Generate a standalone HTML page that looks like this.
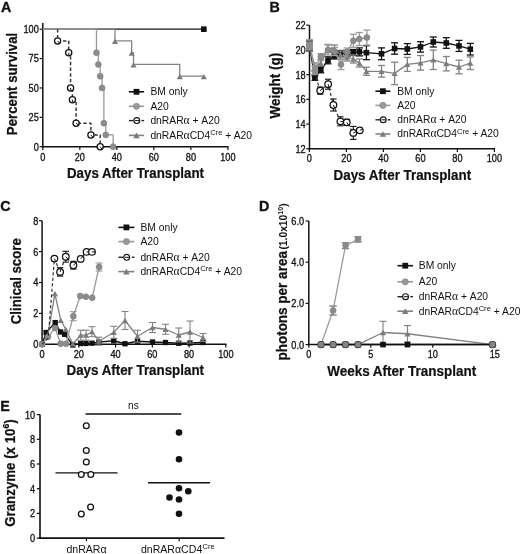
<!DOCTYPE html><html><head><meta charset="utf-8"><style>html,body{margin:0;padding:0;background:#fff;overflow:hidden}svg{display:block;will-change:transform;filter:blur(0.3px);}text{font-family:"Liberation Sans",sans-serif;}</style></head><body>
<svg width="520" height="554" viewBox="0 0 520 554">
<rect width="520" height="554" fill="#fff"/>
<text transform="translate(0.90,11.75) scale(0.94,1)" font-size="15.2" font-weight="bold" fill="#111" stroke="#111" stroke-width="0.35">A</text>
<line x1="42.80" y1="23.10" x2="42.80" y2="147.45" stroke="#111" stroke-width="1.5"/>
<line x1="42.05" y1="146.70" x2="228.50" y2="146.70" stroke="#111" stroke-width="1.5"/>
<line x1="39.60" y1="146.70" x2="42.80" y2="146.70" stroke="#111" stroke-width="1.2"/>
<text transform="translate(38.80,150.60) scale(0.92,1)" font-size="10" text-anchor="end" font-weight="normal" fill="#111" stroke="#111" stroke-width="0.3">0</text>
<line x1="39.60" y1="117.32" x2="42.80" y2="117.32" stroke="#111" stroke-width="1.2"/>
<text transform="translate(38.80,121.22) scale(0.92,1)" font-size="10" text-anchor="end" font-weight="normal" fill="#111" stroke="#111" stroke-width="0.3">25</text>
<line x1="39.60" y1="87.95" x2="42.80" y2="87.95" stroke="#111" stroke-width="1.2"/>
<text transform="translate(38.80,91.85) scale(0.92,1)" font-size="10" text-anchor="end" font-weight="normal" fill="#111" stroke="#111" stroke-width="0.3">50</text>
<line x1="39.60" y1="58.57" x2="42.80" y2="58.57" stroke="#111" stroke-width="1.2"/>
<text transform="translate(38.80,62.47) scale(0.92,1)" font-size="10" text-anchor="end" font-weight="normal" fill="#111" stroke="#111" stroke-width="0.3">75</text>
<line x1="39.60" y1="29.20" x2="42.80" y2="29.20" stroke="#111" stroke-width="1.2"/>
<text transform="translate(38.80,33.10) scale(0.92,1)" font-size="10" text-anchor="end" font-weight="normal" fill="#111" stroke="#111" stroke-width="0.3">100</text>
<line x1="42.80" y1="146.70" x2="42.80" y2="149.90" stroke="#111" stroke-width="1.2"/>
<text transform="translate(42.80,160.50) scale(0.92,1)" font-size="10" text-anchor="middle" font-weight="normal" fill="#111" stroke="#111" stroke-width="0.3">0</text>
<line x1="79.82" y1="146.70" x2="79.82" y2="149.90" stroke="#111" stroke-width="1.2"/>
<text transform="translate(79.82,160.50) scale(0.92,1)" font-size="10" text-anchor="middle" font-weight="normal" fill="#111" stroke="#111" stroke-width="0.3">20</text>
<line x1="116.84" y1="146.70" x2="116.84" y2="149.90" stroke="#111" stroke-width="1.2"/>
<text transform="translate(116.84,160.50) scale(0.92,1)" font-size="10" text-anchor="middle" font-weight="normal" fill="#111" stroke="#111" stroke-width="0.3">40</text>
<line x1="153.86" y1="146.70" x2="153.86" y2="149.90" stroke="#111" stroke-width="1.2"/>
<text transform="translate(153.86,160.50) scale(0.92,1)" font-size="10" text-anchor="middle" font-weight="normal" fill="#111" stroke="#111" stroke-width="0.3">60</text>
<line x1="190.88" y1="146.70" x2="190.88" y2="149.90" stroke="#111" stroke-width="1.2"/>
<text transform="translate(190.88,160.50) scale(0.92,1)" font-size="10" text-anchor="middle" font-weight="normal" fill="#111" stroke="#111" stroke-width="0.3">80</text>
<line x1="227.90" y1="146.70" x2="227.90" y2="149.90" stroke="#111" stroke-width="1.2"/>
<text transform="translate(227.90,160.50) scale(0.92,1)" font-size="10" text-anchor="middle" font-weight="normal" fill="#111" stroke="#111" stroke-width="0.3">100</text>
<text transform="translate(17.30,135.20) rotate(-90)" font-size="14.4" font-weight="bold" text-anchor="start" fill="#111" stroke="#111" stroke-width="0.25" textLength="102.5" lengthAdjust="spacingAndGlyphs">Percent survival</text>
<text x="67.00" y="177.80" font-size="13.8" text-anchor="start" font-weight="bold" fill="#111" textLength="137" lengthAdjust="spacingAndGlyphs" stroke="#111" stroke-width="0.2">Days After Transplant</text>
<polyline points="42.80,29.20 203.84,29.20" fill="none" stroke="#111" stroke-width="1.3" stroke-linejoin="round"/>
<rect x="201.04" y="26.40" width="5.6" height="5.6" fill="#111"/>
<polyline points="42.80,29.20 114.99,29.20 114.99,40.95 131.65,40.95 131.65,52.70 133.50,52.70 133.50,64.45 179.77,64.45 179.77,76.20 203.84,76.20 203.84,76.20" fill="none" stroke="#828282" stroke-width="1.3" stroke-linejoin="round"/>
<polygon points="111.89,43.98 118.09,43.98 114.99,38.71" fill="#7c7c7c"/>
<polygon points="128.55,55.73 134.75,55.73 131.65,50.46" fill="#7c7c7c"/>
<polygon points="130.40,67.48 136.60,67.48 133.50,62.21" fill="#7c7c7c"/>
<polygon points="176.67,79.23 182.87,79.23 179.77,73.96" fill="#7c7c7c"/>
<polygon points="200.74,79.23 206.94,79.23 203.84,73.96" fill="#7c7c7c"/>
<polyline points="42.80,29.20 96.48,29.20 96.48,52.70 98.33,52.70 98.33,64.45 100.18,64.45 100.18,76.20 102.03,76.20 102.03,87.95 103.88,87.95 103.88,123.20 105.73,123.20 105.73,134.95 113.14,134.95 113.14,146.70" fill="none" stroke="#9a9a9a" stroke-width="1.3" stroke-linejoin="round"/>
<circle cx="96.48" cy="52.70" r="3.0" fill="#8c8c8c" stroke="#777" stroke-width="0.5"/>
<circle cx="98.33" cy="64.45" r="3.0" fill="#8c8c8c" stroke="#777" stroke-width="0.5"/>
<circle cx="100.18" cy="76.20" r="3.0" fill="#8c8c8c" stroke="#777" stroke-width="0.5"/>
<circle cx="102.03" cy="87.95" r="3.0" fill="#8c8c8c" stroke="#777" stroke-width="0.5"/>
<circle cx="103.88" cy="123.20" r="3.0" fill="#8c8c8c" stroke="#777" stroke-width="0.5"/>
<circle cx="105.73" cy="134.95" r="3.0" fill="#8c8c8c" stroke="#777" stroke-width="0.5"/>
<circle cx="113.14" cy="146.70" r="3.0" fill="#8c8c8c" stroke="#777" stroke-width="0.5"/>
<polyline points="57.61,29.20 57.61,40.95 68.71,40.95 68.71,52.70 70.56,52.70 70.56,87.95 72.42,87.95 72.42,99.70 76.12,99.70 76.12,123.20 90.93,123.20 90.93,134.95 100.18,134.95 100.18,146.70" fill="none" stroke="#333" stroke-width="1.45" stroke-dasharray="3.4,2.3" stroke-linejoin="round"/>
<circle cx="57.61" cy="40.95" r="3.1" fill="#fff" stroke="#111" stroke-width="1.25"/>
<line x1="57.61" y1="40.95" x2="59.63" y2="43.09" stroke="#111" stroke-width="1.0"/>
<circle cx="68.71" cy="52.70" r="3.1" fill="#fff" stroke="#111" stroke-width="1.25"/>
<line x1="68.71" y1="52.70" x2="68.87" y2="55.64" stroke="#111" stroke-width="1.0"/>
<circle cx="70.56" cy="87.95" r="3.1" fill="#fff" stroke="#111" stroke-width="1.25"/>
<line x1="70.56" y1="87.95" x2="71.02" y2="90.86" stroke="#111" stroke-width="1.0"/>
<circle cx="72.42" cy="99.70" r="3.1" fill="#fff" stroke="#111" stroke-width="1.25"/>
<line x1="72.42" y1="99.70" x2="72.87" y2="102.61" stroke="#111" stroke-width="1.0"/>
<circle cx="76.12" cy="123.20" r="3.1" fill="#fff" stroke="#111" stroke-width="1.25"/>
<line x1="76.12" y1="123.20" x2="78.42" y2="125.03" stroke="#111" stroke-width="1.0"/>
<circle cx="90.93" cy="134.95" r="3.1" fill="#fff" stroke="#111" stroke-width="1.25"/>
<line x1="90.93" y1="134.95" x2="92.75" y2="137.26" stroke="#111" stroke-width="1.0"/>
<circle cx="100.18" cy="146.70" r="3.1" fill="#fff" stroke="#111" stroke-width="1.25"/>
<line x1="100.18" y1="146.70" x2="102.00" y2="149.01" stroke="#111" stroke-width="1.0"/>
<line x1="128.90" y1="91.80" x2="144.10" y2="91.80" stroke="#111" stroke-width="1.6"/>
<rect x="133.60" y="88.90" width="5.8" height="5.8" fill="#111"/>
<line x1="128.90" y1="106.30" x2="144.10" y2="106.30" stroke="#9a9a9a" stroke-width="1.6"/>
<circle cx="136.50" cy="106.30" r="3.1" fill="#9a9a9a" stroke="#777" stroke-width="0.5"/>
<line x1="128.90" y1="120.60" x2="133.50" y2="120.60" stroke="#222" stroke-width="1.4"/>
<line x1="141.50" y1="120.60" x2="144.10" y2="120.60" stroke="#222" stroke-width="1.4"/>
<circle cx="136.80" cy="120.60" r="2.95" fill="none" stroke="#111" stroke-width="1.1"/>
<line x1="135.00" y1="120.60" x2="139.50" y2="120.60" stroke="#111" stroke-width="1.0"/>
<line x1="128.90" y1="135.40" x2="144.10" y2="135.40" stroke="#828282" stroke-width="1.6"/>
<polygon points="133.20,138.21 139.80,138.21 136.50,132.59" fill="#7c7c7c"/>
<text x="150.40" y="95.25" font-size="10.3" text-anchor="start" font-weight="normal" fill="#111" >BM only</text>
<text x="150.40" y="109.75" font-size="10.3" text-anchor="start" font-weight="normal" fill="#111" >A20</text>
<text x="150.40" y="124.05" font-size="10.3" text-anchor="start" font-weight="normal" fill="#111" >dnRAR<tspan font-family="Liberation Serif" font-size="11.5">α</tspan> + A20</text>
<text x="150.40" y="138.85" font-size="10.3" text-anchor="start" font-weight="normal" fill="#111" >dnRAR<tspan font-family="Liberation Serif" font-size="11.5">α</tspan>CD4<tspan font-size="7.6" dy="-3.9">Cre</tspan><tspan dy="3.9"> + A20</tspan></text>
<text transform="translate(269.50,11.80) scale(0.94,1)" font-size="15.2" font-weight="bold" fill="#111" stroke="#111" stroke-width="0.35">B</text>
<line x1="309.50" y1="25.20" x2="309.50" y2="149.50" stroke="#111" stroke-width="1.5"/>
<line x1="308.75" y1="148.75" x2="495.00" y2="148.75" stroke="#111" stroke-width="1.5"/>
<line x1="306.30" y1="148.75" x2="309.50" y2="148.75" stroke="#111" stroke-width="1.2"/>
<text transform="translate(305.60,152.65) scale(0.92,1)" font-size="10" text-anchor="end" font-weight="normal" fill="#111" stroke="#111" stroke-width="0.3">12</text>
<line x1="306.30" y1="124.04" x2="309.50" y2="124.04" stroke="#111" stroke-width="1.2"/>
<text transform="translate(305.60,127.94) scale(0.92,1)" font-size="10" text-anchor="end" font-weight="normal" fill="#111" stroke="#111" stroke-width="0.3">14</text>
<line x1="306.30" y1="99.33" x2="309.50" y2="99.33" stroke="#111" stroke-width="1.2"/>
<text transform="translate(305.60,103.23) scale(0.92,1)" font-size="10" text-anchor="end" font-weight="normal" fill="#111" stroke="#111" stroke-width="0.3">16</text>
<line x1="306.30" y1="74.62" x2="309.50" y2="74.62" stroke="#111" stroke-width="1.2"/>
<text transform="translate(305.60,78.52) scale(0.92,1)" font-size="10" text-anchor="end" font-weight="normal" fill="#111" stroke="#111" stroke-width="0.3">18</text>
<line x1="306.30" y1="49.91" x2="309.50" y2="49.91" stroke="#111" stroke-width="1.2"/>
<text transform="translate(305.60,53.81) scale(0.92,1)" font-size="10" text-anchor="end" font-weight="normal" fill="#111" stroke="#111" stroke-width="0.3">20</text>
<line x1="306.30" y1="25.20" x2="309.50" y2="25.20" stroke="#111" stroke-width="1.2"/>
<text transform="translate(305.60,29.10) scale(0.92,1)" font-size="10" text-anchor="end" font-weight="normal" fill="#111" stroke="#111" stroke-width="0.3">22</text>
<line x1="309.40" y1="148.75" x2="309.40" y2="151.95" stroke="#111" stroke-width="1.2"/>
<text transform="translate(309.40,162.00) scale(0.92,1)" font-size="10" text-anchor="middle" font-weight="normal" fill="#111" stroke="#111" stroke-width="0.3">0</text>
<line x1="346.40" y1="148.75" x2="346.40" y2="151.95" stroke="#111" stroke-width="1.2"/>
<text transform="translate(346.40,162.00) scale(0.92,1)" font-size="10" text-anchor="middle" font-weight="normal" fill="#111" stroke="#111" stroke-width="0.3">20</text>
<line x1="383.40" y1="148.75" x2="383.40" y2="151.95" stroke="#111" stroke-width="1.2"/>
<text transform="translate(383.40,162.00) scale(0.92,1)" font-size="10" text-anchor="middle" font-weight="normal" fill="#111" stroke="#111" stroke-width="0.3">40</text>
<line x1="420.40" y1="148.75" x2="420.40" y2="151.95" stroke="#111" stroke-width="1.2"/>
<text transform="translate(420.40,162.00) scale(0.92,1)" font-size="10" text-anchor="middle" font-weight="normal" fill="#111" stroke="#111" stroke-width="0.3">60</text>
<line x1="457.40" y1="148.75" x2="457.40" y2="151.95" stroke="#111" stroke-width="1.2"/>
<text transform="translate(457.40,162.00) scale(0.92,1)" font-size="10" text-anchor="middle" font-weight="normal" fill="#111" stroke="#111" stroke-width="0.3">80</text>
<line x1="494.40" y1="148.75" x2="494.40" y2="151.95" stroke="#111" stroke-width="1.2"/>
<text transform="translate(494.40,162.00) scale(0.92,1)" font-size="10" text-anchor="middle" font-weight="normal" fill="#111" stroke="#111" stroke-width="0.3">100</text>
<text transform="translate(280.20,118.60) rotate(-90)" font-size="14.2" font-weight="bold" text-anchor="start" fill="#111" stroke="#111" stroke-width="0.25" textLength="65.8" lengthAdjust="spacingAndGlyphs">Weight (g)</text>
<text x="333.60" y="179.60" font-size="13.8" text-anchor="start" font-weight="bold" fill="#111" textLength="137.5" lengthAdjust="spacingAndGlyphs" stroke="#111" stroke-width="0.2">Days After Transplant</text>
<line x1="309.50" y1="41.00" x2="309.50" y2="51.00" stroke="#111" stroke-width="1.3"/>
<line x1="306.00" y1="41.00" x2="313.00" y2="41.00" stroke="#111" stroke-width="1.3"/>
<line x1="306.00" y1="51.00" x2="313.00" y2="51.00" stroke="#111" stroke-width="1.3"/>
<line x1="314.90" y1="75.30" x2="314.90" y2="80.30" stroke="#111" stroke-width="1.3"/>
<line x1="311.40" y1="75.30" x2="318.40" y2="75.30" stroke="#111" stroke-width="1.3"/>
<line x1="311.40" y1="80.30" x2="318.40" y2="80.30" stroke="#111" stroke-width="1.3"/>
<line x1="320.80" y1="66.80" x2="320.80" y2="72.80" stroke="#111" stroke-width="1.3"/>
<line x1="317.30" y1="66.80" x2="324.30" y2="66.80" stroke="#111" stroke-width="1.3"/>
<line x1="317.30" y1="72.80" x2="324.30" y2="72.80" stroke="#111" stroke-width="1.3"/>
<line x1="328.00" y1="56.80" x2="328.00" y2="63.80" stroke="#111" stroke-width="1.3"/>
<line x1="324.50" y1="56.80" x2="331.50" y2="56.80" stroke="#111" stroke-width="1.3"/>
<line x1="324.50" y1="63.80" x2="331.50" y2="63.80" stroke="#111" stroke-width="1.3"/>
<line x1="334.50" y1="53.00" x2="334.50" y2="59.00" stroke="#111" stroke-width="1.3"/>
<line x1="331.00" y1="53.00" x2="338.00" y2="53.00" stroke="#111" stroke-width="1.3"/>
<line x1="331.00" y1="59.00" x2="338.00" y2="59.00" stroke="#111" stroke-width="1.3"/>
<line x1="340.50" y1="50.50" x2="340.50" y2="56.50" stroke="#111" stroke-width="1.3"/>
<line x1="337.00" y1="50.50" x2="344.00" y2="50.50" stroke="#111" stroke-width="1.3"/>
<line x1="337.00" y1="56.50" x2="344.00" y2="56.50" stroke="#111" stroke-width="1.3"/>
<line x1="347.00" y1="50.50" x2="347.00" y2="56.50" stroke="#111" stroke-width="1.3"/>
<line x1="343.50" y1="50.50" x2="350.50" y2="50.50" stroke="#111" stroke-width="1.3"/>
<line x1="343.50" y1="56.50" x2="350.50" y2="56.50" stroke="#111" stroke-width="1.3"/>
<line x1="353.30" y1="49.50" x2="353.30" y2="55.50" stroke="#111" stroke-width="1.3"/>
<line x1="349.80" y1="49.50" x2="356.80" y2="49.50" stroke="#111" stroke-width="1.3"/>
<line x1="349.80" y1="55.50" x2="356.80" y2="55.50" stroke="#111" stroke-width="1.3"/>
<line x1="359.40" y1="47.90" x2="359.40" y2="55.90" stroke="#111" stroke-width="1.3"/>
<line x1="355.90" y1="47.90" x2="362.90" y2="47.90" stroke="#111" stroke-width="1.3"/>
<line x1="355.90" y1="55.90" x2="362.90" y2="55.90" stroke="#111" stroke-width="1.3"/>
<line x1="366.40" y1="45.70" x2="366.40" y2="59.70" stroke="#111" stroke-width="1.3"/>
<line x1="362.90" y1="45.70" x2="369.90" y2="45.70" stroke="#111" stroke-width="1.3"/>
<line x1="362.90" y1="59.70" x2="369.90" y2="59.70" stroke="#111" stroke-width="1.3"/>
<line x1="381.50" y1="47.90" x2="381.50" y2="59.70" stroke="#111" stroke-width="1.3"/>
<line x1="378.00" y1="47.90" x2="385.00" y2="47.90" stroke="#111" stroke-width="1.3"/>
<line x1="378.00" y1="59.70" x2="385.00" y2="59.70" stroke="#111" stroke-width="1.3"/>
<line x1="394.60" y1="42.80" x2="394.60" y2="54.20" stroke="#111" stroke-width="1.3"/>
<line x1="391.10" y1="42.80" x2="398.10" y2="42.80" stroke="#111" stroke-width="1.3"/>
<line x1="391.10" y1="54.20" x2="398.10" y2="54.20" stroke="#111" stroke-width="1.3"/>
<line x1="407.30" y1="43.60" x2="407.30" y2="54.40" stroke="#111" stroke-width="1.3"/>
<line x1="403.80" y1="43.60" x2="410.80" y2="43.60" stroke="#111" stroke-width="1.3"/>
<line x1="403.80" y1="54.40" x2="410.80" y2="54.40" stroke="#111" stroke-width="1.3"/>
<line x1="420.50" y1="41.70" x2="420.50" y2="52.10" stroke="#111" stroke-width="1.3"/>
<line x1="417.00" y1="41.70" x2="424.00" y2="41.70" stroke="#111" stroke-width="1.3"/>
<line x1="417.00" y1="52.10" x2="424.00" y2="52.10" stroke="#111" stroke-width="1.3"/>
<line x1="433.30" y1="37.00" x2="433.30" y2="47.00" stroke="#111" stroke-width="1.3"/>
<line x1="429.80" y1="37.00" x2="436.80" y2="37.00" stroke="#111" stroke-width="1.3"/>
<line x1="429.80" y1="47.00" x2="436.80" y2="47.00" stroke="#111" stroke-width="1.3"/>
<line x1="446.30" y1="37.70" x2="446.30" y2="48.30" stroke="#111" stroke-width="1.3"/>
<line x1="442.80" y1="37.70" x2="449.80" y2="37.70" stroke="#111" stroke-width="1.3"/>
<line x1="442.80" y1="48.30" x2="449.80" y2="48.30" stroke="#111" stroke-width="1.3"/>
<line x1="459.00" y1="40.40" x2="459.00" y2="51.40" stroke="#111" stroke-width="1.3"/>
<line x1="455.50" y1="40.40" x2="462.50" y2="40.40" stroke="#111" stroke-width="1.3"/>
<line x1="455.50" y1="51.40" x2="462.50" y2="51.40" stroke="#111" stroke-width="1.3"/>
<line x1="470.30" y1="43.40" x2="470.30" y2="55.00" stroke="#111" stroke-width="1.3"/>
<line x1="466.80" y1="43.40" x2="473.80" y2="43.40" stroke="#111" stroke-width="1.3"/>
<line x1="466.80" y1="55.00" x2="473.80" y2="55.00" stroke="#111" stroke-width="1.3"/>
<polyline points="309.50,46.00 314.90,77.80 320.80,69.80 328.00,60.30 334.50,56.00 340.50,53.50 347.00,53.50 353.30,52.50 359.40,51.90 366.40,52.70 381.50,53.80 394.60,48.50 407.30,49.00 420.50,46.90 433.30,42.00 446.30,43.00 459.00,45.90 470.30,49.20" fill="none" stroke="#111" stroke-width="1.3" stroke-linejoin="round"/>
<rect x="306.70" y="43.20" width="5.6" height="5.6" fill="#111"/>
<rect x="312.10" y="75.00" width="5.6" height="5.6" fill="#111"/>
<rect x="318.00" y="67.00" width="5.6" height="5.6" fill="#111"/>
<rect x="325.20" y="57.50" width="5.6" height="5.6" fill="#111"/>
<rect x="331.70" y="53.20" width="5.6" height="5.6" fill="#111"/>
<rect x="337.70" y="50.70" width="5.6" height="5.6" fill="#111"/>
<rect x="344.20" y="50.70" width="5.6" height="5.6" fill="#111"/>
<rect x="350.50" y="49.70" width="5.6" height="5.6" fill="#111"/>
<rect x="356.60" y="49.10" width="5.6" height="5.6" fill="#111"/>
<rect x="363.60" y="49.90" width="5.6" height="5.6" fill="#111"/>
<rect x="378.70" y="51.00" width="5.6" height="5.6" fill="#111"/>
<rect x="391.80" y="45.70" width="5.6" height="5.6" fill="#111"/>
<rect x="404.50" y="46.20" width="5.6" height="5.6" fill="#111"/>
<rect x="417.70" y="44.10" width="5.6" height="5.6" fill="#111"/>
<rect x="430.50" y="39.20" width="5.6" height="5.6" fill="#111"/>
<rect x="443.50" y="40.20" width="5.6" height="5.6" fill="#111"/>
<rect x="456.20" y="43.10" width="5.6" height="5.6" fill="#111"/>
<rect x="467.50" y="46.40" width="5.6" height="5.6" fill="#111"/>
<line x1="309.50" y1="41.00" x2="309.50" y2="49.00" stroke="#111" stroke-width="1.1"/>
<line x1="306.30" y1="41.00" x2="312.70" y2="41.00" stroke="#111" stroke-width="1.1"/>
<line x1="306.30" y1="49.00" x2="312.70" y2="49.00" stroke="#111" stroke-width="1.1"/>
<line x1="314.90" y1="71.00" x2="314.90" y2="77.00" stroke="#111" stroke-width="1.1"/>
<line x1="311.70" y1="71.00" x2="318.10" y2="71.00" stroke="#111" stroke-width="1.1"/>
<line x1="311.70" y1="77.00" x2="318.10" y2="77.00" stroke="#111" stroke-width="1.1"/>
<line x1="320.20" y1="87.00" x2="320.20" y2="94.20" stroke="#111" stroke-width="1.1"/>
<line x1="317.00" y1="87.00" x2="323.40" y2="87.00" stroke="#111" stroke-width="1.1"/>
<line x1="317.00" y1="94.20" x2="323.40" y2="94.20" stroke="#111" stroke-width="1.1"/>
<line x1="328.10" y1="79.20" x2="328.10" y2="89.20" stroke="#111" stroke-width="1.1"/>
<line x1="324.90" y1="79.20" x2="331.30" y2="79.20" stroke="#111" stroke-width="1.1"/>
<line x1="324.90" y1="89.20" x2="331.30" y2="89.20" stroke="#111" stroke-width="1.1"/>
<line x1="333.40" y1="99.00" x2="333.40" y2="111.00" stroke="#111" stroke-width="1.1"/>
<line x1="330.20" y1="99.00" x2="336.60" y2="99.00" stroke="#111" stroke-width="1.1"/>
<line x1="330.20" y1="111.00" x2="336.60" y2="111.00" stroke="#111" stroke-width="1.1"/>
<line x1="340.40" y1="116.80" x2="340.40" y2="125.80" stroke="#111" stroke-width="1.1"/>
<line x1="337.20" y1="116.80" x2="343.60" y2="116.80" stroke="#111" stroke-width="1.1"/>
<line x1="337.20" y1="125.80" x2="343.60" y2="125.80" stroke="#111" stroke-width="1.1"/>
<line x1="346.80" y1="119.30" x2="346.80" y2="125.30" stroke="#111" stroke-width="1.1"/>
<line x1="343.60" y1="119.30" x2="350.00" y2="119.30" stroke="#111" stroke-width="1.1"/>
<line x1="343.60" y1="125.30" x2="350.00" y2="125.30" stroke="#111" stroke-width="1.1"/>
<line x1="353.30" y1="126.40" x2="353.30" y2="139.40" stroke="#111" stroke-width="1.1"/>
<line x1="350.10" y1="126.40" x2="356.50" y2="126.40" stroke="#111" stroke-width="1.1"/>
<line x1="350.10" y1="139.40" x2="356.50" y2="139.40" stroke="#111" stroke-width="1.1"/>
<line x1="359.80" y1="128.30" x2="359.80" y2="132.30" stroke="#111" stroke-width="1.1"/>
<line x1="356.60" y1="128.30" x2="363.00" y2="128.30" stroke="#111" stroke-width="1.1"/>
<line x1="356.60" y1="132.30" x2="363.00" y2="132.30" stroke="#111" stroke-width="1.1"/>
<polyline points="309.50,45.00 314.90,74.00 320.20,90.60 328.10,84.20 333.40,105.00 340.40,121.30 346.80,122.30 353.30,132.90 359.80,130.30" fill="none" stroke="#333" stroke-width="1.2" stroke-dasharray="3.2,2.3" stroke-linejoin="round"/>
<circle cx="320.20" cy="90.60" r="3.3" fill="#fff" stroke="#111" stroke-width="1.25"/>
<line x1="320.20" y1="90.60" x2="322.64" y2="88.63" stroke="#111" stroke-width="1.0"/>
<circle cx="328.10" cy="84.20" r="3.3" fill="#fff" stroke="#111" stroke-width="1.25"/>
<line x1="328.10" y1="84.20" x2="328.87" y2="87.24" stroke="#111" stroke-width="1.0"/>
<circle cx="333.40" cy="105.00" r="3.3" fill="#fff" stroke="#111" stroke-width="1.25"/>
<line x1="333.40" y1="105.00" x2="334.64" y2="107.88" stroke="#111" stroke-width="1.0"/>
<circle cx="340.40" cy="121.30" r="3.3" fill="#fff" stroke="#111" stroke-width="1.25"/>
<line x1="340.40" y1="121.30" x2="343.50" y2="121.78" stroke="#111" stroke-width="1.0"/>
<circle cx="346.80" cy="122.30" r="3.3" fill="#fff" stroke="#111" stroke-width="1.25"/>
<line x1="346.80" y1="122.30" x2="348.44" y2="124.97" stroke="#111" stroke-width="1.0"/>
<circle cx="353.30" cy="132.90" r="3.3" fill="#fff" stroke="#111" stroke-width="1.25"/>
<line x1="353.30" y1="132.90" x2="356.21" y2="131.74" stroke="#111" stroke-width="1.0"/>
<circle cx="359.80" cy="130.30" r="3.3" fill="#fff" stroke="#111" stroke-width="1.25"/>
<line x1="359.80" y1="130.30" x2="362.71" y2="129.14" stroke="#111" stroke-width="1.0"/>
<line x1="309.50" y1="40.00" x2="309.50" y2="50.00" stroke="#828282" stroke-width="1.3"/>
<line x1="306.00" y1="40.00" x2="313.00" y2="40.00" stroke="#828282" stroke-width="1.3"/>
<line x1="306.00" y1="50.00" x2="313.00" y2="50.00" stroke="#828282" stroke-width="1.3"/>
<line x1="314.90" y1="63.00" x2="314.90" y2="71.00" stroke="#828282" stroke-width="1.3"/>
<line x1="311.40" y1="63.00" x2="318.40" y2="63.00" stroke="#828282" stroke-width="1.3"/>
<line x1="311.40" y1="71.00" x2="318.40" y2="71.00" stroke="#828282" stroke-width="1.3"/>
<line x1="320.80" y1="60.00" x2="320.80" y2="66.00" stroke="#828282" stroke-width="1.3"/>
<line x1="317.30" y1="60.00" x2="324.30" y2="60.00" stroke="#828282" stroke-width="1.3"/>
<line x1="317.30" y1="66.00" x2="324.30" y2="66.00" stroke="#828282" stroke-width="1.3"/>
<line x1="328.00" y1="44.50" x2="328.00" y2="52.50" stroke="#828282" stroke-width="1.3"/>
<line x1="324.50" y1="44.50" x2="331.50" y2="44.50" stroke="#828282" stroke-width="1.3"/>
<line x1="324.50" y1="52.50" x2="331.50" y2="52.50" stroke="#828282" stroke-width="1.3"/>
<line x1="334.50" y1="45.00" x2="334.50" y2="53.00" stroke="#828282" stroke-width="1.3"/>
<line x1="331.00" y1="45.00" x2="338.00" y2="45.00" stroke="#828282" stroke-width="1.3"/>
<line x1="331.00" y1="53.00" x2="338.00" y2="53.00" stroke="#828282" stroke-width="1.3"/>
<line x1="340.50" y1="51.00" x2="340.50" y2="59.00" stroke="#828282" stroke-width="1.3"/>
<line x1="337.00" y1="51.00" x2="344.00" y2="51.00" stroke="#828282" stroke-width="1.3"/>
<line x1="337.00" y1="59.00" x2="344.00" y2="59.00" stroke="#828282" stroke-width="1.3"/>
<line x1="347.00" y1="53.00" x2="347.00" y2="61.00" stroke="#828282" stroke-width="1.3"/>
<line x1="343.50" y1="53.00" x2="350.50" y2="53.00" stroke="#828282" stroke-width="1.3"/>
<line x1="343.50" y1="61.00" x2="350.50" y2="61.00" stroke="#828282" stroke-width="1.3"/>
<line x1="353.30" y1="55.00" x2="353.30" y2="63.00" stroke="#828282" stroke-width="1.3"/>
<line x1="349.80" y1="55.00" x2="356.80" y2="55.00" stroke="#828282" stroke-width="1.3"/>
<line x1="349.80" y1="63.00" x2="356.80" y2="63.00" stroke="#828282" stroke-width="1.3"/>
<line x1="359.40" y1="59.00" x2="359.40" y2="67.00" stroke="#828282" stroke-width="1.3"/>
<line x1="355.90" y1="59.00" x2="362.90" y2="59.00" stroke="#828282" stroke-width="1.3"/>
<line x1="355.90" y1="67.00" x2="362.90" y2="67.00" stroke="#828282" stroke-width="1.3"/>
<line x1="366.40" y1="67.30" x2="366.40" y2="75.30" stroke="#828282" stroke-width="1.3"/>
<line x1="362.90" y1="67.30" x2="369.90" y2="67.30" stroke="#828282" stroke-width="1.3"/>
<line x1="362.90" y1="75.30" x2="369.90" y2="75.30" stroke="#828282" stroke-width="1.3"/>
<line x1="381.50" y1="65.50" x2="381.50" y2="77.10" stroke="#828282" stroke-width="1.3"/>
<line x1="378.00" y1="65.50" x2="385.00" y2="65.50" stroke="#828282" stroke-width="1.3"/>
<line x1="378.00" y1="77.10" x2="385.00" y2="77.10" stroke="#828282" stroke-width="1.3"/>
<line x1="394.60" y1="62.20" x2="394.60" y2="84.60" stroke="#828282" stroke-width="1.3"/>
<line x1="391.10" y1="62.20" x2="398.10" y2="62.20" stroke="#828282" stroke-width="1.3"/>
<line x1="391.10" y1="84.60" x2="398.10" y2="84.60" stroke="#828282" stroke-width="1.3"/>
<line x1="407.30" y1="57.40" x2="407.30" y2="71.40" stroke="#828282" stroke-width="1.3"/>
<line x1="403.80" y1="57.40" x2="410.80" y2="57.40" stroke="#828282" stroke-width="1.3"/>
<line x1="403.80" y1="71.40" x2="410.80" y2="71.40" stroke="#828282" stroke-width="1.3"/>
<line x1="420.50" y1="55.50" x2="420.50" y2="70.10" stroke="#828282" stroke-width="1.3"/>
<line x1="417.00" y1="55.50" x2="424.00" y2="55.50" stroke="#828282" stroke-width="1.3"/>
<line x1="417.00" y1="70.10" x2="424.00" y2="70.10" stroke="#828282" stroke-width="1.3"/>
<line x1="433.30" y1="50.10" x2="433.30" y2="69.50" stroke="#828282" stroke-width="1.3"/>
<line x1="429.80" y1="50.10" x2="436.80" y2="50.10" stroke="#828282" stroke-width="1.3"/>
<line x1="429.80" y1="69.50" x2="436.80" y2="69.50" stroke="#828282" stroke-width="1.3"/>
<line x1="446.30" y1="56.50" x2="446.30" y2="70.90" stroke="#828282" stroke-width="1.3"/>
<line x1="442.80" y1="56.50" x2="449.80" y2="56.50" stroke="#828282" stroke-width="1.3"/>
<line x1="442.80" y1="70.90" x2="449.80" y2="70.90" stroke="#828282" stroke-width="1.3"/>
<line x1="459.00" y1="60.20" x2="459.00" y2="73.80" stroke="#828282" stroke-width="1.3"/>
<line x1="455.50" y1="60.20" x2="462.50" y2="60.20" stroke="#828282" stroke-width="1.3"/>
<line x1="455.50" y1="73.80" x2="462.50" y2="73.80" stroke="#828282" stroke-width="1.3"/>
<line x1="470.30" y1="56.90" x2="470.30" y2="69.50" stroke="#828282" stroke-width="1.3"/>
<line x1="466.80" y1="56.90" x2="473.80" y2="56.90" stroke="#828282" stroke-width="1.3"/>
<line x1="466.80" y1="69.50" x2="473.80" y2="69.50" stroke="#828282" stroke-width="1.3"/>
<polyline points="309.50,45.00 314.90,67.00 320.80,63.00 328.00,48.50 334.50,49.00 340.50,55.00 347.00,57.00 353.30,59.00 359.40,63.00 366.40,71.30 381.50,71.30 394.60,73.40 407.30,64.40 420.50,62.80 433.30,59.80 446.30,63.70 459.00,67.00 470.30,63.20" fill="none" stroke="#828282" stroke-width="1.3" stroke-linejoin="round"/>
<polygon points="306.40,47.63 312.60,47.63 309.50,42.37" fill="#7c7c7c"/>
<polygon points="311.80,69.64 318.00,69.64 314.90,64.36" fill="#7c7c7c"/>
<polygon points="317.70,65.64 323.90,65.64 320.80,60.37" fill="#7c7c7c"/>
<polygon points="324.90,51.13 331.10,51.13 328.00,45.87" fill="#7c7c7c"/>
<polygon points="331.40,51.63 337.60,51.63 334.50,46.37" fill="#7c7c7c"/>
<polygon points="337.40,57.63 343.60,57.63 340.50,52.37" fill="#7c7c7c"/>
<polygon points="343.90,59.63 350.10,59.63 347.00,54.37" fill="#7c7c7c"/>
<polygon points="350.20,61.63 356.40,61.63 353.30,56.37" fill="#7c7c7c"/>
<polygon points="356.30,65.64 362.50,65.64 359.40,60.37" fill="#7c7c7c"/>
<polygon points="363.30,73.94 369.50,73.94 366.40,68.66" fill="#7c7c7c"/>
<polygon points="378.40,73.94 384.60,73.94 381.50,68.66" fill="#7c7c7c"/>
<polygon points="391.50,76.04 397.70,76.04 394.60,70.77" fill="#7c7c7c"/>
<polygon points="404.20,67.04 410.40,67.04 407.30,61.77" fill="#7c7c7c"/>
<polygon points="417.40,65.44 423.60,65.44 420.50,60.16" fill="#7c7c7c"/>
<polygon points="430.20,62.43 436.40,62.43 433.30,57.16" fill="#7c7c7c"/>
<polygon points="443.20,66.34 449.40,66.34 446.30,61.07" fill="#7c7c7c"/>
<polygon points="455.90,69.64 462.10,69.64 459.00,64.36" fill="#7c7c7c"/>
<polygon points="467.20,65.84 473.40,65.84 470.30,60.57" fill="#7c7c7c"/>
<line x1="309.50" y1="40.00" x2="309.50" y2="50.00" stroke="#9a9a9a" stroke-width="1.3"/>
<line x1="306.00" y1="40.00" x2="313.00" y2="40.00" stroke="#9a9a9a" stroke-width="1.3"/>
<line x1="306.00" y1="50.00" x2="313.00" y2="50.00" stroke="#9a9a9a" stroke-width="1.3"/>
<line x1="314.90" y1="66.00" x2="314.90" y2="74.00" stroke="#9a9a9a" stroke-width="1.3"/>
<line x1="311.40" y1="66.00" x2="318.40" y2="66.00" stroke="#9a9a9a" stroke-width="1.3"/>
<line x1="311.40" y1="74.00" x2="318.40" y2="74.00" stroke="#9a9a9a" stroke-width="1.3"/>
<line x1="320.80" y1="53.70" x2="320.80" y2="59.70" stroke="#9a9a9a" stroke-width="1.3"/>
<line x1="317.30" y1="53.70" x2="324.30" y2="53.70" stroke="#9a9a9a" stroke-width="1.3"/>
<line x1="317.30" y1="59.70" x2="324.30" y2="59.70" stroke="#9a9a9a" stroke-width="1.3"/>
<line x1="328.00" y1="44.90" x2="328.00" y2="54.90" stroke="#9a9a9a" stroke-width="1.3"/>
<line x1="324.50" y1="44.90" x2="331.50" y2="44.90" stroke="#9a9a9a" stroke-width="1.3"/>
<line x1="324.50" y1="54.90" x2="331.50" y2="54.90" stroke="#9a9a9a" stroke-width="1.3"/>
<line x1="334.50" y1="47.50" x2="334.50" y2="55.50" stroke="#9a9a9a" stroke-width="1.3"/>
<line x1="331.00" y1="47.50" x2="338.00" y2="47.50" stroke="#9a9a9a" stroke-width="1.3"/>
<line x1="331.00" y1="55.50" x2="338.00" y2="55.50" stroke="#9a9a9a" stroke-width="1.3"/>
<line x1="341.00" y1="59.50" x2="341.00" y2="69.50" stroke="#9a9a9a" stroke-width="1.3"/>
<line x1="337.50" y1="59.50" x2="344.50" y2="59.50" stroke="#9a9a9a" stroke-width="1.3"/>
<line x1="337.50" y1="69.50" x2="344.50" y2="69.50" stroke="#9a9a9a" stroke-width="1.3"/>
<line x1="347.00" y1="48.00" x2="347.00" y2="56.00" stroke="#9a9a9a" stroke-width="1.3"/>
<line x1="343.50" y1="48.00" x2="350.50" y2="48.00" stroke="#9a9a9a" stroke-width="1.3"/>
<line x1="343.50" y1="56.00" x2="350.50" y2="56.00" stroke="#9a9a9a" stroke-width="1.3"/>
<line x1="353.40" y1="34.30" x2="353.40" y2="47.30" stroke="#9a9a9a" stroke-width="1.3"/>
<line x1="349.90" y1="34.30" x2="356.90" y2="34.30" stroke="#9a9a9a" stroke-width="1.3"/>
<line x1="349.90" y1="47.30" x2="356.90" y2="47.30" stroke="#9a9a9a" stroke-width="1.3"/>
<line x1="359.30" y1="32.50" x2="359.30" y2="45.50" stroke="#9a9a9a" stroke-width="1.3"/>
<line x1="355.80" y1="32.50" x2="362.80" y2="32.50" stroke="#9a9a9a" stroke-width="1.3"/>
<line x1="355.80" y1="45.50" x2="362.80" y2="45.50" stroke="#9a9a9a" stroke-width="1.3"/>
<line x1="366.90" y1="30.10" x2="366.90" y2="45.10" stroke="#9a9a9a" stroke-width="1.3"/>
<line x1="363.40" y1="30.10" x2="370.40" y2="30.10" stroke="#9a9a9a" stroke-width="1.3"/>
<line x1="363.40" y1="45.10" x2="370.40" y2="45.10" stroke="#9a9a9a" stroke-width="1.3"/>
<polyline points="309.50,45.00 314.90,70.00 320.80,56.70 328.00,49.90 334.50,51.50 341.00,64.50 347.00,52.00 353.40,40.80 359.30,39.00 366.90,37.60" fill="none" stroke="#9a9a9a" stroke-width="1.3" stroke-linejoin="round"/>
<circle cx="309.50" cy="45.00" r="3.0" fill="#8c8c8c" stroke="#777" stroke-width="0.5"/>
<circle cx="314.90" cy="70.00" r="3.0" fill="#8c8c8c" stroke="#777" stroke-width="0.5"/>
<circle cx="320.80" cy="56.70" r="3.0" fill="#8c8c8c" stroke="#777" stroke-width="0.5"/>
<circle cx="328.00" cy="49.90" r="3.0" fill="#8c8c8c" stroke="#777" stroke-width="0.5"/>
<circle cx="334.50" cy="51.50" r="3.0" fill="#8c8c8c" stroke="#777" stroke-width="0.5"/>
<circle cx="341.00" cy="64.50" r="3.0" fill="#8c8c8c" stroke="#777" stroke-width="0.5"/>
<circle cx="347.00" cy="52.00" r="3.0" fill="#8c8c8c" stroke="#777" stroke-width="0.5"/>
<circle cx="353.40" cy="40.80" r="3.0" fill="#8c8c8c" stroke="#777" stroke-width="0.5"/>
<circle cx="359.30" cy="39.00" r="3.0" fill="#8c8c8c" stroke="#777" stroke-width="0.5"/>
<circle cx="366.90" cy="37.60" r="3.0" fill="#8c8c8c" stroke="#777" stroke-width="0.5"/>
<rect x="306.2" y="40.6" width="6.6" height="10.8" fill="#8e8e8e"/>
<line x1="306.20" y1="41.20" x2="312.80" y2="41.20" stroke="#555" stroke-width="1.0"/>
<line x1="306.20" y1="50.80" x2="312.80" y2="50.80" stroke="#555" stroke-width="1.0"/>
<rect x="312.2" y="64.8" width="5.6" height="10.5" fill="#8e8e8e"/>
<line x1="375.40" y1="91.20" x2="390.40" y2="91.20" stroke="#111" stroke-width="1.6"/>
<rect x="380.00" y="88.30" width="5.8" height="5.8" fill="#111"/>
<line x1="375.40" y1="105.40" x2="390.40" y2="105.40" stroke="#9a9a9a" stroke-width="1.6"/>
<circle cx="382.90" cy="105.40" r="3.1" fill="#9a9a9a" stroke="#777" stroke-width="0.5"/>
<line x1="375.40" y1="119.80" x2="379.90" y2="119.80" stroke="#222" stroke-width="1.4"/>
<line x1="387.80" y1="119.80" x2="390.40" y2="119.80" stroke="#222" stroke-width="1.4"/>
<circle cx="383.20" cy="119.80" r="2.95" fill="none" stroke="#111" stroke-width="1.1"/>
<line x1="381.40" y1="119.80" x2="385.90" y2="119.80" stroke="#111" stroke-width="1.0"/>
<line x1="375.40" y1="134.00" x2="390.40" y2="134.00" stroke="#828282" stroke-width="1.6"/>
<polygon points="379.60,136.81 386.20,136.81 382.90,131.19" fill="#7c7c7c"/>
<text x="397.20" y="94.65" font-size="10.3" text-anchor="start" font-weight="normal" fill="#111" >BM only</text>
<text x="397.20" y="108.85" font-size="10.3" text-anchor="start" font-weight="normal" fill="#111" >A20</text>
<text x="397.20" y="123.25" font-size="10.3" text-anchor="start" font-weight="normal" fill="#111" >dnRAR<tspan font-family="Liberation Serif" font-size="11.5">α</tspan> + A20</text>
<text x="397.20" y="137.45" font-size="10.3" text-anchor="start" font-weight="normal" fill="#111" >dnRAR<tspan font-family="Liberation Serif" font-size="11.5">α</tspan>CD4<tspan font-size="7.6" dy="-3.9">Cre</tspan><tspan dy="3.9"> + A20</tspan></text>
<text transform="translate(0.15,210.90) scale(0.94,1)" font-size="15.2" font-weight="bold" fill="#111" stroke="#111" stroke-width="0.35">C</text>
<line x1="42.10" y1="220.80" x2="42.10" y2="345.05" stroke="#111" stroke-width="1.5"/>
<line x1="41.35" y1="344.30" x2="226.45" y2="344.30" stroke="#111" stroke-width="1.5"/>
<line x1="38.90" y1="344.30" x2="42.10" y2="344.30" stroke="#111" stroke-width="1.2"/>
<text transform="translate(38.30,348.20) scale(0.92,1)" font-size="10" text-anchor="end" font-weight="normal" fill="#111" stroke="#111" stroke-width="0.3">0</text>
<line x1="38.90" y1="313.40" x2="42.10" y2="313.40" stroke="#111" stroke-width="1.2"/>
<text transform="translate(38.30,317.30) scale(0.92,1)" font-size="10" text-anchor="end" font-weight="normal" fill="#111" stroke="#111" stroke-width="0.3">2</text>
<line x1="38.90" y1="282.50" x2="42.10" y2="282.50" stroke="#111" stroke-width="1.2"/>
<text transform="translate(38.30,286.40) scale(0.92,1)" font-size="10" text-anchor="end" font-weight="normal" fill="#111" stroke="#111" stroke-width="0.3">4</text>
<line x1="38.90" y1="251.60" x2="42.10" y2="251.60" stroke="#111" stroke-width="1.2"/>
<text transform="translate(38.30,255.50) scale(0.92,1)" font-size="10" text-anchor="end" font-weight="normal" fill="#111" stroke="#111" stroke-width="0.3">6</text>
<line x1="38.90" y1="220.70" x2="42.10" y2="220.70" stroke="#111" stroke-width="1.2"/>
<text transform="translate(38.30,224.60) scale(0.92,1)" font-size="10" text-anchor="end" font-weight="normal" fill="#111" stroke="#111" stroke-width="0.3">8</text>
<line x1="42.10" y1="344.30" x2="42.10" y2="347.50" stroke="#111" stroke-width="1.2"/>
<text transform="translate(42.10,358.00) scale(0.92,1)" font-size="10" text-anchor="middle" font-weight="normal" fill="#111" stroke="#111" stroke-width="0.3">0</text>
<line x1="78.85" y1="344.30" x2="78.85" y2="347.50" stroke="#111" stroke-width="1.2"/>
<text transform="translate(78.85,358.00) scale(0.92,1)" font-size="10" text-anchor="middle" font-weight="normal" fill="#111" stroke="#111" stroke-width="0.3">20</text>
<line x1="115.60" y1="344.30" x2="115.60" y2="347.50" stroke="#111" stroke-width="1.2"/>
<text transform="translate(115.60,358.00) scale(0.92,1)" font-size="10" text-anchor="middle" font-weight="normal" fill="#111" stroke="#111" stroke-width="0.3">40</text>
<line x1="152.35" y1="344.30" x2="152.35" y2="347.50" stroke="#111" stroke-width="1.2"/>
<text transform="translate(152.35,358.00) scale(0.92,1)" font-size="10" text-anchor="middle" font-weight="normal" fill="#111" stroke="#111" stroke-width="0.3">60</text>
<line x1="189.10" y1="344.30" x2="189.10" y2="347.50" stroke="#111" stroke-width="1.2"/>
<text transform="translate(189.10,358.00) scale(0.92,1)" font-size="10" text-anchor="middle" font-weight="normal" fill="#111" stroke="#111" stroke-width="0.3">80</text>
<line x1="225.85" y1="344.30" x2="225.85" y2="347.50" stroke="#111" stroke-width="1.2"/>
<text transform="translate(225.85,358.00) scale(0.92,1)" font-size="10" text-anchor="middle" font-weight="normal" fill="#111" stroke="#111" stroke-width="0.3">100</text>
<text transform="translate(21.20,324.20) rotate(-90)" font-size="14.4" font-weight="bold" text-anchor="start" fill="#111" stroke="#111" stroke-width="0.25" textLength="86" lengthAdjust="spacingAndGlyphs">Clinical score</text>
<text x="66.50" y="375.40" font-size="13.8" text-anchor="start" font-weight="bold" fill="#111" textLength="137.5" lengthAdjust="spacingAndGlyphs" stroke="#111" stroke-width="0.2">Days After Transplant</text>
<polyline points="42.10,344.30 46.10,332.50 55.20,322.60 60.60,332.00 64.60,334.30 72.80,345.00 80.70,343.50 86.00,343.50 92.00,343.20 98.90,342.20 113.75,340.75 125.00,343.75 137.50,341.25 152.50,342.00 165.50,342.50 178.75,343.25 190.00,343.00 203.00,342.50" fill="none" stroke="#111" stroke-width="1.3" stroke-linejoin="round"/>
<rect x="39.45" y="341.65" width="5.3" height="5.3" fill="#111"/>
<rect x="43.45" y="329.85" width="5.3" height="5.3" fill="#111"/>
<rect x="52.55" y="319.95" width="5.3" height="5.3" fill="#111"/>
<rect x="57.95" y="329.35" width="5.3" height="5.3" fill="#111"/>
<rect x="61.95" y="331.65" width="5.3" height="5.3" fill="#111"/>
<rect x="70.15" y="342.35" width="5.3" height="5.3" fill="#111"/>
<rect x="78.05" y="340.85" width="5.3" height="5.3" fill="#111"/>
<rect x="83.35" y="340.85" width="5.3" height="5.3" fill="#111"/>
<rect x="89.35" y="340.55" width="5.3" height="5.3" fill="#111"/>
<rect x="96.25" y="339.55" width="5.3" height="5.3" fill="#111"/>
<rect x="111.10" y="338.10" width="5.3" height="5.3" fill="#111"/>
<rect x="122.35" y="341.10" width="5.3" height="5.3" fill="#111"/>
<rect x="134.85" y="338.60" width="5.3" height="5.3" fill="#111"/>
<rect x="149.85" y="339.35" width="5.3" height="5.3" fill="#111"/>
<rect x="162.85" y="339.85" width="5.3" height="5.3" fill="#111"/>
<rect x="176.10" y="340.60" width="5.3" height="5.3" fill="#111"/>
<rect x="187.35" y="340.35" width="5.3" height="5.3" fill="#111"/>
<rect x="200.35" y="339.85" width="5.3" height="5.3" fill="#111"/>
<line x1="80.70" y1="330.20" x2="80.70" y2="340.20" stroke="#828282" stroke-width="1.1"/>
<line x1="77.20" y1="330.20" x2="84.20" y2="330.20" stroke="#828282" stroke-width="1.1"/>
<line x1="77.20" y1="340.20" x2="84.20" y2="340.20" stroke="#828282" stroke-width="1.1"/>
<line x1="86.00" y1="330.20" x2="86.00" y2="340.20" stroke="#828282" stroke-width="1.1"/>
<line x1="82.50" y1="330.20" x2="89.50" y2="330.20" stroke="#828282" stroke-width="1.1"/>
<line x1="82.50" y1="340.20" x2="89.50" y2="340.20" stroke="#828282" stroke-width="1.1"/>
<line x1="92.00" y1="326.70" x2="92.00" y2="336.70" stroke="#828282" stroke-width="1.1"/>
<line x1="88.50" y1="326.70" x2="95.50" y2="326.70" stroke="#828282" stroke-width="1.1"/>
<line x1="88.50" y1="336.70" x2="95.50" y2="336.70" stroke="#828282" stroke-width="1.1"/>
<line x1="98.90" y1="337.20" x2="98.90" y2="345.20" stroke="#828282" stroke-width="1.1"/>
<line x1="95.40" y1="337.20" x2="102.40" y2="337.20" stroke="#828282" stroke-width="1.1"/>
<line x1="95.40" y1="345.20" x2="102.40" y2="345.20" stroke="#828282" stroke-width="1.1"/>
<line x1="113.80" y1="326.30" x2="113.80" y2="338.30" stroke="#828282" stroke-width="1.1"/>
<line x1="110.30" y1="326.30" x2="117.30" y2="326.30" stroke="#828282" stroke-width="1.1"/>
<line x1="110.30" y1="338.30" x2="117.30" y2="338.30" stroke="#828282" stroke-width="1.1"/>
<line x1="125.00" y1="311.50" x2="125.00" y2="329.50" stroke="#828282" stroke-width="1.1"/>
<line x1="121.50" y1="311.50" x2="128.50" y2="311.50" stroke="#828282" stroke-width="1.1"/>
<line x1="121.50" y1="329.50" x2="128.50" y2="329.50" stroke="#828282" stroke-width="1.1"/>
<line x1="137.50" y1="330.25" x2="137.50" y2="342.25" stroke="#828282" stroke-width="1.1"/>
<line x1="134.00" y1="330.25" x2="141.00" y2="330.25" stroke="#828282" stroke-width="1.1"/>
<line x1="134.00" y1="342.25" x2="141.00" y2="342.25" stroke="#828282" stroke-width="1.1"/>
<line x1="152.50" y1="322.50" x2="152.50" y2="332.50" stroke="#828282" stroke-width="1.1"/>
<line x1="149.00" y1="322.50" x2="156.00" y2="322.50" stroke="#828282" stroke-width="1.1"/>
<line x1="149.00" y1="332.50" x2="156.00" y2="332.50" stroke="#828282" stroke-width="1.1"/>
<line x1="165.50" y1="324.25" x2="165.50" y2="334.25" stroke="#828282" stroke-width="1.1"/>
<line x1="162.00" y1="324.25" x2="169.00" y2="324.25" stroke="#828282" stroke-width="1.1"/>
<line x1="162.00" y1="334.25" x2="169.00" y2="334.25" stroke="#828282" stroke-width="1.1"/>
<line x1="178.75" y1="328.00" x2="178.75" y2="342.00" stroke="#828282" stroke-width="1.1"/>
<line x1="175.25" y1="328.00" x2="182.25" y2="328.00" stroke="#828282" stroke-width="1.1"/>
<line x1="175.25" y1="342.00" x2="182.25" y2="342.00" stroke="#828282" stroke-width="1.1"/>
<line x1="190.00" y1="321.00" x2="190.00" y2="343.00" stroke="#828282" stroke-width="1.1"/>
<line x1="186.50" y1="321.00" x2="193.50" y2="321.00" stroke="#828282" stroke-width="1.1"/>
<line x1="186.50" y1="343.00" x2="193.50" y2="343.00" stroke="#828282" stroke-width="1.1"/>
<line x1="203.00" y1="333.50" x2="203.00" y2="341.50" stroke="#828282" stroke-width="1.1"/>
<line x1="199.50" y1="333.50" x2="206.50" y2="333.50" stroke="#828282" stroke-width="1.1"/>
<line x1="199.50" y1="341.50" x2="206.50" y2="341.50" stroke="#828282" stroke-width="1.1"/>
<polyline points="42.10,344.30 47.90,335.20 54.90,293.60 60.80,320.40 65.80,329.30 72.80,343.80 80.70,335.20 86.00,335.20 92.00,331.70 98.90,341.20 113.80,332.30 125.00,320.50 137.50,336.25 152.50,327.50 165.50,329.25 178.75,335.00 190.00,332.00 203.00,337.50" fill="none" stroke="#828282" stroke-width="1.3" stroke-linejoin="round"/>
<polygon points="39.00,346.94 45.20,346.94 42.10,341.67" fill="#7c7c7c"/>
<polygon points="44.80,337.83 51.00,337.83 47.90,332.56" fill="#7c7c7c"/>
<polygon points="51.80,296.24 58.00,296.24 54.90,290.97" fill="#7c7c7c"/>
<polygon points="57.70,323.03 63.90,323.03 60.80,317.76" fill="#7c7c7c"/>
<polygon points="62.70,331.94 68.90,331.94 65.80,326.67" fill="#7c7c7c"/>
<polygon points="69.70,346.44 75.90,346.44 72.80,341.17" fill="#7c7c7c"/>
<polygon points="77.60,337.83 83.80,337.83 80.70,332.56" fill="#7c7c7c"/>
<polygon points="82.90,337.83 89.10,337.83 86.00,332.56" fill="#7c7c7c"/>
<polygon points="88.90,334.33 95.10,334.33 92.00,329.06" fill="#7c7c7c"/>
<polygon points="95.80,343.83 102.00,343.83 98.90,338.56" fill="#7c7c7c"/>
<polygon points="110.70,334.94 116.90,334.94 113.80,329.67" fill="#7c7c7c"/>
<polygon points="121.90,323.13 128.10,323.13 125.00,317.87" fill="#7c7c7c"/>
<polygon points="134.40,338.88 140.60,338.88 137.50,333.62" fill="#7c7c7c"/>
<polygon points="149.40,330.13 155.60,330.13 152.50,324.87" fill="#7c7c7c"/>
<polygon points="162.40,331.88 168.60,331.88 165.50,326.62" fill="#7c7c7c"/>
<polygon points="175.65,337.63 181.85,337.63 178.75,332.37" fill="#7c7c7c"/>
<polygon points="186.90,334.63 193.10,334.63 190.00,329.37" fill="#7c7c7c"/>
<polygon points="199.90,340.13 206.10,340.13 203.00,334.87" fill="#7c7c7c"/>
<line x1="73.30" y1="311.70" x2="73.30" y2="320.70" stroke="#9a9a9a" stroke-width="1.1"/>
<line x1="69.80" y1="311.70" x2="76.80" y2="311.70" stroke="#9a9a9a" stroke-width="1.1"/>
<line x1="69.80" y1="320.70" x2="76.80" y2="320.70" stroke="#9a9a9a" stroke-width="1.1"/>
<line x1="99.10" y1="263.00" x2="99.10" y2="271.00" stroke="#9a9a9a" stroke-width="1.1"/>
<line x1="95.60" y1="263.00" x2="102.60" y2="263.00" stroke="#9a9a9a" stroke-width="1.1"/>
<line x1="95.60" y1="271.00" x2="102.60" y2="271.00" stroke="#9a9a9a" stroke-width="1.1"/>
<polyline points="42.10,344.30 47.90,337.00 55.20,328.00 60.60,343.80 66.00,343.80 73.30,316.20 80.20,296.00 85.90,296.70 92.20,297.70 99.10,267.00" fill="none" stroke="#9a9a9a" stroke-width="1.3" stroke-linejoin="round"/>
<circle cx="42.10" cy="344.30" r="3.0" fill="#8c8c8c" stroke="#777" stroke-width="0.5"/>
<circle cx="47.90" cy="337.00" r="3.0" fill="#8c8c8c" stroke="#777" stroke-width="0.5"/>
<circle cx="55.20" cy="328.00" r="3.0" fill="#8c8c8c" stroke="#777" stroke-width="0.5"/>
<circle cx="60.60" cy="343.80" r="3.0" fill="#8c8c8c" stroke="#777" stroke-width="0.5"/>
<circle cx="66.00" cy="343.80" r="3.0" fill="#8c8c8c" stroke="#777" stroke-width="0.5"/>
<circle cx="73.30" cy="316.20" r="3.0" fill="#8c8c8c" stroke="#777" stroke-width="0.5"/>
<circle cx="80.20" cy="296.00" r="3.0" fill="#8c8c8c" stroke="#777" stroke-width="0.5"/>
<circle cx="85.90" cy="296.70" r="3.0" fill="#8c8c8c" stroke="#777" stroke-width="0.5"/>
<circle cx="92.20" cy="297.70" r="3.0" fill="#8c8c8c" stroke="#777" stroke-width="0.5"/>
<circle cx="99.10" cy="267.00" r="3.0" fill="#8c8c8c" stroke="#777" stroke-width="0.5"/>
<line x1="60.10" y1="267.70" x2="60.10" y2="276.10" stroke="#111" stroke-width="1.1"/>
<line x1="56.90" y1="267.70" x2="63.30" y2="267.70" stroke="#111" stroke-width="1.1"/>
<line x1="56.90" y1="276.10" x2="63.30" y2="276.10" stroke="#111" stroke-width="1.1"/>
<line x1="65.80" y1="251.30" x2="65.80" y2="262.10" stroke="#111" stroke-width="1.1"/>
<line x1="62.60" y1="251.30" x2="69.00" y2="251.30" stroke="#111" stroke-width="1.1"/>
<line x1="62.60" y1="262.10" x2="69.00" y2="262.10" stroke="#111" stroke-width="1.1"/>
<line x1="73.40" y1="261.30" x2="73.40" y2="269.10" stroke="#111" stroke-width="1.1"/>
<line x1="70.20" y1="261.30" x2="76.60" y2="261.30" stroke="#111" stroke-width="1.1"/>
<line x1="70.20" y1="269.10" x2="76.60" y2="269.10" stroke="#111" stroke-width="1.1"/>
<polyline points="42.10,344.30 48.20,338.00 54.40,258.60 60.10,271.90 65.80,256.70 73.40,265.20 80.70,258.90 86.60,251.90 92.00,251.90" fill="none" stroke="#333" stroke-width="1.2" stroke-dasharray="3.2,2.3" stroke-linejoin="round"/>
<circle cx="54.40" cy="258.60" r="3.3" fill="#fff" stroke="#111" stroke-width="1.25"/>
<line x1="54.40" y1="258.60" x2="55.63" y2="261.48" stroke="#111" stroke-width="1.0"/>
<circle cx="60.10" cy="271.90" r="3.3" fill="#fff" stroke="#111" stroke-width="1.25"/>
<line x1="60.10" y1="271.90" x2="61.20" y2="268.96" stroke="#111" stroke-width="1.0"/>
<circle cx="65.80" cy="256.70" r="3.3" fill="#fff" stroke="#111" stroke-width="1.25"/>
<line x1="65.80" y1="256.70" x2="67.89" y2="259.04" stroke="#111" stroke-width="1.0"/>
<circle cx="73.40" cy="265.20" r="3.3" fill="#fff" stroke="#111" stroke-width="1.25"/>
<line x1="73.40" y1="265.20" x2="75.77" y2="263.15" stroke="#111" stroke-width="1.0"/>
<circle cx="80.70" cy="258.90" r="3.3" fill="#fff" stroke="#111" stroke-width="1.25"/>
<line x1="80.70" y1="258.90" x2="82.72" y2="256.50" stroke="#111" stroke-width="1.0"/>
<circle cx="86.60" cy="251.90" r="3.3" fill="#fff" stroke="#111" stroke-width="1.25"/>
<line x1="86.60" y1="251.90" x2="89.73" y2="251.90" stroke="#111" stroke-width="1.0"/>
<circle cx="92.00" cy="251.90" r="3.3" fill="#fff" stroke="#111" stroke-width="1.25"/>
<line x1="92.00" y1="251.90" x2="95.14" y2="251.90" stroke="#111" stroke-width="1.0"/>
<line x1="118.40" y1="227.40" x2="134.40" y2="227.40" stroke="#111" stroke-width="1.6"/>
<rect x="123.50" y="224.50" width="5.8" height="5.8" fill="#111"/>
<line x1="118.40" y1="241.60" x2="134.40" y2="241.60" stroke="#9a9a9a" stroke-width="1.6"/>
<circle cx="126.40" cy="241.60" r="3.1" fill="#9a9a9a" stroke="#777" stroke-width="0.5"/>
<line x1="118.40" y1="257.30" x2="123.40" y2="257.30" stroke="#222" stroke-width="1.4"/>
<line x1="131.80" y1="257.30" x2="134.40" y2="257.30" stroke="#222" stroke-width="1.4"/>
<circle cx="126.70" cy="257.30" r="2.95" fill="none" stroke="#111" stroke-width="1.1"/>
<line x1="124.90" y1="257.30" x2="129.40" y2="257.30" stroke="#111" stroke-width="1.0"/>
<line x1="118.40" y1="271.60" x2="134.40" y2="271.60" stroke="#828282" stroke-width="1.6"/>
<polygon points="123.10,274.41 129.70,274.41 126.40,268.80" fill="#7c7c7c"/>
<text x="140.40" y="230.85" font-size="10.3" text-anchor="start" font-weight="normal" fill="#111" >BM only</text>
<text x="140.40" y="245.05" font-size="10.3" text-anchor="start" font-weight="normal" fill="#111" >A20</text>
<text x="140.40" y="260.75" font-size="10.3" text-anchor="start" font-weight="normal" fill="#111" >dnRAR<tspan font-family="Liberation Serif" font-size="11.5">α</tspan> + A20</text>
<text x="140.40" y="275.05" font-size="10.3" text-anchor="start" font-weight="normal" fill="#111" >dnRAR<tspan font-family="Liberation Serif" font-size="11.5">α</tspan>CD4<tspan font-size="7.6" dy="-3.9">Cre</tspan><tspan dy="3.9"> + A20</tspan></text>
<text transform="translate(258.90,210.90) scale(0.94,1)" font-size="15.2" font-weight="bold" fill="#111" stroke="#111" stroke-width="0.35">D</text>
<line x1="308.80" y1="221.00" x2="308.80" y2="345.35" stroke="#111" stroke-width="1.5"/>
<line x1="308.05" y1="344.60" x2="495.40" y2="344.60" stroke="#111" stroke-width="1.5"/>
<line x1="305.60" y1="344.60" x2="308.80" y2="344.60" stroke="#111" stroke-width="1.2"/>
<text transform="translate(304.10,348.50) scale(0.92,1)" font-size="10" text-anchor="end" font-weight="normal" fill="#111" stroke="#111" stroke-width="0.3">0.0</text>
<line x1="305.60" y1="303.40" x2="308.80" y2="303.40" stroke="#111" stroke-width="1.2"/>
<text transform="translate(304.10,307.30) scale(0.92,1)" font-size="10" text-anchor="end" font-weight="normal" fill="#111" stroke="#111" stroke-width="0.3">2.0</text>
<line x1="305.60" y1="262.20" x2="308.80" y2="262.20" stroke="#111" stroke-width="1.2"/>
<text transform="translate(304.10,266.10) scale(0.92,1)" font-size="10" text-anchor="end" font-weight="normal" fill="#111" stroke="#111" stroke-width="0.3">4.0</text>
<line x1="305.60" y1="221.00" x2="308.80" y2="221.00" stroke="#111" stroke-width="1.2"/>
<text transform="translate(304.10,224.90) scale(0.92,1)" font-size="10" text-anchor="end" font-weight="normal" fill="#111" stroke="#111" stroke-width="0.3">6.0</text>
<line x1="308.80" y1="344.60" x2="308.80" y2="347.80" stroke="#111" stroke-width="1.2"/>
<text transform="translate(308.80,358.00) scale(0.92,1)" font-size="10" text-anchor="middle" font-weight="normal" fill="#111" stroke="#111" stroke-width="0.3">0</text>
<line x1="370.80" y1="344.60" x2="370.80" y2="347.80" stroke="#111" stroke-width="1.2"/>
<text transform="translate(370.80,358.00) scale(0.92,1)" font-size="10" text-anchor="middle" font-weight="normal" fill="#111" stroke="#111" stroke-width="0.3">5</text>
<line x1="432.80" y1="344.60" x2="432.80" y2="347.80" stroke="#111" stroke-width="1.2"/>
<text transform="translate(432.80,358.00) scale(0.92,1)" font-size="10" text-anchor="middle" font-weight="normal" fill="#111" stroke="#111" stroke-width="0.3">10</text>
<line x1="494.80" y1="344.60" x2="494.80" y2="347.80" stroke="#111" stroke-width="1.2"/>
<text transform="translate(494.80,358.00) scale(0.92,1)" font-size="10" text-anchor="middle" font-weight="normal" fill="#111" stroke="#111" stroke-width="0.3">15</text>
<text transform="translate(287.0,360.6) rotate(-90)" font-size="14.2" font-weight="bold" fill="#111" stroke="#111" stroke-width="0.25" textLength="109.5" lengthAdjust="spacingAndGlyphs">photons per area</text>
<text transform="translate(287.0,249.6) rotate(-90)" font-size="10.3" font-weight="bold" fill="#111">(1.0x10<tspan font-size="7" dy="-4.2">10</tspan><tspan dy="4.2">)</tspan></text>
<text x="327.20" y="375.70" font-size="13.8" text-anchor="start" font-weight="bold" fill="#111" textLength="149" lengthAdjust="spacingAndGlyphs" stroke="#111" stroke-width="0.2">Weeks After Transplant</text>
<line x1="383.00" y1="321.30" x2="383.00" y2="343.70" stroke="#828282" stroke-width="1.1"/>
<line x1="379.50" y1="321.30" x2="386.50" y2="321.30" stroke="#828282" stroke-width="1.1"/>
<line x1="379.50" y1="343.70" x2="386.50" y2="343.70" stroke="#828282" stroke-width="1.1"/>
<line x1="407.50" y1="325.55" x2="407.50" y2="341.95" stroke="#828282" stroke-width="1.1"/>
<line x1="404.00" y1="325.55" x2="411.00" y2="325.55" stroke="#828282" stroke-width="1.1"/>
<line x1="404.00" y1="341.95" x2="411.00" y2="341.95" stroke="#828282" stroke-width="1.1"/>
<polyline points="321.00,344.60 333.10,344.60 345.50,344.60 358.00,344.60 383.00,332.50 407.50,333.75 492.50,344.60" fill="none" stroke="#828282" stroke-width="1.3" stroke-linejoin="round"/>
<line x1="333.10" y1="306.00" x2="333.10" y2="315.00" stroke="#9a9a9a" stroke-width="1.1"/>
<line x1="329.60" y1="306.00" x2="336.60" y2="306.00" stroke="#9a9a9a" stroke-width="1.1"/>
<line x1="329.60" y1="315.00" x2="336.60" y2="315.00" stroke="#9a9a9a" stroke-width="1.1"/>
<line x1="345.50" y1="242.60" x2="345.50" y2="248.60" stroke="#9a9a9a" stroke-width="1.1"/>
<line x1="342.00" y1="242.60" x2="349.00" y2="242.60" stroke="#9a9a9a" stroke-width="1.1"/>
<line x1="342.00" y1="248.60" x2="349.00" y2="248.60" stroke="#9a9a9a" stroke-width="1.1"/>
<line x1="358.00" y1="236.60" x2="358.00" y2="242.00" stroke="#9a9a9a" stroke-width="1.1"/>
<line x1="354.50" y1="236.60" x2="361.50" y2="236.60" stroke="#9a9a9a" stroke-width="1.1"/>
<line x1="354.50" y1="242.00" x2="361.50" y2="242.00" stroke="#9a9a9a" stroke-width="1.1"/>
<polyline points="321.00,344.60 333.10,310.50 345.50,245.60 358.00,239.30" fill="none" stroke="#9a9a9a" stroke-width="1.3" stroke-linejoin="round"/>
<line x1="321.00" y1="344.60" x2="492.50" y2="344.60" stroke="#111" stroke-width="1.5"/>
<rect x="318.20" y="341.80" width="5.6" height="5.6" fill="#111"/>
<rect x="330.30" y="341.80" width="5.6" height="5.6" fill="#111"/>
<rect x="342.70" y="341.80" width="5.6" height="5.6" fill="#111"/>
<rect x="355.20" y="341.80" width="5.6" height="5.6" fill="#111"/>
<rect x="380.20" y="341.80" width="5.6" height="5.6" fill="#111"/>
<rect x="404.70" y="341.80" width="5.6" height="5.6" fill="#111"/>
<rect x="489.70" y="341.80" width="5.6" height="5.6" fill="#111"/>
<polygon points="317.90,347.24 324.10,347.24 321.00,341.97" fill="#7c7c7c"/>
<polygon points="330.00,347.24 336.20,347.24 333.10,341.97" fill="#7c7c7c"/>
<polygon points="342.40,347.24 348.60,347.24 345.50,341.97" fill="#7c7c7c"/>
<polygon points="354.90,347.24 361.10,347.24 358.00,341.97" fill="#7c7c7c"/>
<polygon points="379.90,335.13 386.10,335.13 383.00,329.87" fill="#7c7c7c"/>
<polygon points="404.40,336.38 410.60,336.38 407.50,331.12" fill="#7c7c7c"/>
<polygon points="489.40,347.24 495.60,347.24 492.50,341.97" fill="#7c7c7c"/>
<circle cx="321.00" cy="344.60" r="3.0" fill="#8c8c8c" stroke="#777" stroke-width="0.5"/>
<circle cx="333.10" cy="310.50" r="3.0" fill="#8c8c8c" stroke="#777" stroke-width="0.5"/>
<circle cx="345.50" cy="245.60" r="3.0" fill="#8c8c8c" stroke="#777" stroke-width="0.5"/>
<circle cx="358.00" cy="239.30" r="3.0" fill="#8c8c8c" stroke="#777" stroke-width="0.5"/>
<line x1="333.10" y1="306.00" x2="333.10" y2="315.00" stroke="#8a8a8a" stroke-width="1.2"/>
<line x1="329.50" y1="306.00" x2="336.70" y2="306.00" stroke="#8a8a8a" stroke-width="1.2"/>
<line x1="329.50" y1="315.00" x2="336.70" y2="315.00" stroke="#8a8a8a" stroke-width="1.2"/>
<line x1="345.50" y1="242.60" x2="345.50" y2="248.60" stroke="#8a8a8a" stroke-width="1.2"/>
<line x1="341.90" y1="242.60" x2="349.10" y2="242.60" stroke="#8a8a8a" stroke-width="1.2"/>
<line x1="341.90" y1="248.60" x2="349.10" y2="248.60" stroke="#8a8a8a" stroke-width="1.2"/>
<line x1="358.00" y1="236.60" x2="358.00" y2="242.00" stroke="#8a8a8a" stroke-width="1.2"/>
<line x1="354.40" y1="236.60" x2="361.60" y2="236.60" stroke="#8a8a8a" stroke-width="1.2"/>
<line x1="354.40" y1="242.00" x2="361.60" y2="242.00" stroke="#8a8a8a" stroke-width="1.2"/>
<rect x="317.90" y="341.50" width="6.2" height="6.2" rx="2" fill="#858585" stroke="#3a3a3a" stroke-width="0.9"/>
<rect x="330.00" y="341.50" width="6.2" height="6.2" rx="2" fill="#858585" stroke="#3a3a3a" stroke-width="0.9"/>
<rect x="342.40" y="341.50" width="6.2" height="6.2" rx="2" fill="#858585" stroke="#3a3a3a" stroke-width="0.9"/>
<rect x="354.90" y="341.50" width="6.2" height="6.2" rx="2" fill="#858585" stroke="#3a3a3a" stroke-width="0.9"/>
<rect x="489.40" y="341.50" width="6.2" height="6.2" rx="2" fill="#858585" stroke="#3a3a3a" stroke-width="0.9"/>
<line x1="397.50" y1="265.70" x2="413.00" y2="265.70" stroke="#111" stroke-width="1.6"/>
<rect x="402.35" y="262.80" width="5.8" height="5.8" fill="#111"/>
<line x1="397.50" y1="281.80" x2="413.00" y2="281.80" stroke="#9a9a9a" stroke-width="1.6"/>
<circle cx="405.25" cy="281.80" r="3.1" fill="#9a9a9a" stroke="#777" stroke-width="0.5"/>
<line x1="397.50" y1="296.70" x2="402.25" y2="296.70" stroke="#222" stroke-width="1.4"/>
<line x1="410.40" y1="296.70" x2="413.00" y2="296.70" stroke="#222" stroke-width="1.4"/>
<circle cx="405.55" cy="296.70" r="2.95" fill="none" stroke="#111" stroke-width="1.1"/>
<line x1="403.75" y1="296.70" x2="408.25" y2="296.70" stroke="#111" stroke-width="1.0"/>
<line x1="397.50" y1="311.20" x2="413.00" y2="311.20" stroke="#828282" stroke-width="1.6"/>
<polygon points="401.95,314.00 408.55,314.00 405.25,308.39" fill="#7c7c7c"/>
<text x="418.80" y="269.15" font-size="10.3" text-anchor="start" font-weight="normal" fill="#111" >BM only</text>
<text x="418.80" y="285.25" font-size="10.3" text-anchor="start" font-weight="normal" fill="#111" >A20</text>
<text x="418.80" y="300.15" font-size="10.3" text-anchor="start" font-weight="normal" fill="#111" >dnRAR<tspan font-family="Liberation Serif" font-size="11.5">α</tspan> + A20</text>
<text x="418.80" y="314.65" font-size="10.3" text-anchor="start" font-weight="normal" fill="#111" >dnRAR<tspan font-family="Liberation Serif" font-size="11.5">α</tspan>CD4<tspan font-size="7.6" dy="-3.9">Cre</tspan><tspan dy="3.9"> + A20</tspan></text>
<text transform="translate(0.15,410.50) scale(0.94,1)" font-size="15.2" font-weight="bold" fill="#111" stroke="#111" stroke-width="0.35">E</text>
<line x1="40.00" y1="414.60" x2="40.00" y2="538.85" stroke="#111" stroke-width="1.6"/>
<line x1="39.20" y1="538.10" x2="224.50" y2="538.10" stroke="#111" stroke-width="1.6"/>
<line x1="36.80" y1="538.10" x2="40.00" y2="538.10" stroke="#111" stroke-width="1.2"/>
<text transform="translate(35.20,542.10) scale(0.92,1)" font-size="10" text-anchor="end" font-weight="normal" fill="#111" stroke="#111" stroke-width="0.3">0</text>
<line x1="36.80" y1="513.40" x2="40.00" y2="513.40" stroke="#111" stroke-width="1.2"/>
<text transform="translate(35.20,517.40) scale(0.92,1)" font-size="10" text-anchor="end" font-weight="normal" fill="#111" stroke="#111" stroke-width="0.3">2</text>
<line x1="36.80" y1="488.70" x2="40.00" y2="488.70" stroke="#111" stroke-width="1.2"/>
<text transform="translate(35.20,492.70) scale(0.92,1)" font-size="10" text-anchor="end" font-weight="normal" fill="#111" stroke="#111" stroke-width="0.3">4</text>
<line x1="36.80" y1="464.00" x2="40.00" y2="464.00" stroke="#111" stroke-width="1.2"/>
<text transform="translate(35.20,468.00) scale(0.92,1)" font-size="10" text-anchor="end" font-weight="normal" fill="#111" stroke="#111" stroke-width="0.3">6</text>
<line x1="36.80" y1="439.30" x2="40.00" y2="439.30" stroke="#111" stroke-width="1.2"/>
<text transform="translate(35.20,443.30) scale(0.92,1)" font-size="10" text-anchor="end" font-weight="normal" fill="#111" stroke="#111" stroke-width="0.3">8</text>
<line x1="36.80" y1="414.60" x2="40.00" y2="414.60" stroke="#111" stroke-width="1.2"/>
<text transform="translate(35.20,418.60) scale(0.92,1)" font-size="10" text-anchor="end" font-weight="normal" fill="#111" stroke="#111" stroke-width="0.3">10</text>
<line x1="86.40" y1="538.10" x2="86.40" y2="541.30" stroke="#111" stroke-width="1.2"/>
<line x1="179.10" y1="538.10" x2="179.10" y2="541.30" stroke="#111" stroke-width="1.2"/>
<text x="66.40" y="552.70" font-size="10" text-anchor="start" font-weight="normal" fill="#111" textLength="40.2" lengthAdjust="spacingAndGlyphs" >dnRARα</text>
<text x="140.90" y="552.70" font-size="10" text-anchor="start" font-weight="normal" fill="#111" textLength="61.4" lengthAdjust="spacingAndGlyphs" >dnRARαCD4</text>
<text x="202.60" y="548.60" font-size="7.8" text-anchor="start" font-weight="normal" fill="#111" textLength="12.2" lengthAdjust="spacingAndGlyphs" >Cre</text>
<text transform="translate(14.60,526.80) rotate(-90)" font-size="14.0" font-weight="bold" text-anchor="start" fill="#111" stroke="#111" stroke-width="0.25" textLength="107.5" lengthAdjust="spacingAndGlyphs">Granzyme (x 10<tspan font-size="9" dy="-5.2">6</tspan><tspan dy="5.2">)</tspan></text>
<line x1="85.50" y1="414.00" x2="181.30" y2="414.00" stroke="#111" stroke-width="1.4"/>
<text x="133.40" y="408.70" font-size="10" text-anchor="middle" font-weight="normal" fill="#111" >ns</text>
<line x1="55.50" y1="472.90" x2="117.50" y2="472.90" stroke="#111" stroke-width="1.4"/>
<line x1="148.00" y1="482.80" x2="210.00" y2="482.80" stroke="#111" stroke-width="1.4"/>
<circle cx="86.30" cy="425.80" r="2.9" fill="#fff" stroke="#111" stroke-width="1.3"/>
<circle cx="86.30" cy="450.50" r="2.9" fill="#fff" stroke="#111" stroke-width="1.3"/>
<circle cx="86.30" cy="462.00" r="2.9" fill="#fff" stroke="#111" stroke-width="1.3"/>
<circle cx="81.30" cy="474.50" r="2.9" fill="#fff" stroke="#111" stroke-width="1.3"/>
<circle cx="90.80" cy="474.50" r="2.9" fill="#fff" stroke="#111" stroke-width="1.3"/>
<circle cx="90.60" cy="507.00" r="2.9" fill="#fff" stroke="#111" stroke-width="1.3"/>
<circle cx="81.30" cy="514.00" r="2.9" fill="#fff" stroke="#111" stroke-width="1.3"/>
<circle cx="179" cy="432.5" r="3.3" fill="#111"/>
<circle cx="179" cy="459.3" r="3.3" fill="#111"/>
<circle cx="179" cy="488.3" r="3.3" fill="#111"/>
<circle cx="188.3" cy="491.3" r="3.3" fill="#111"/>
<circle cx="169.5" cy="497.5" r="3.3" fill="#111"/>
<circle cx="179" cy="499.5" r="3.3" fill="#111"/>
<circle cx="179" cy="513.8" r="3.3" fill="#111"/>
</svg></body></html>
